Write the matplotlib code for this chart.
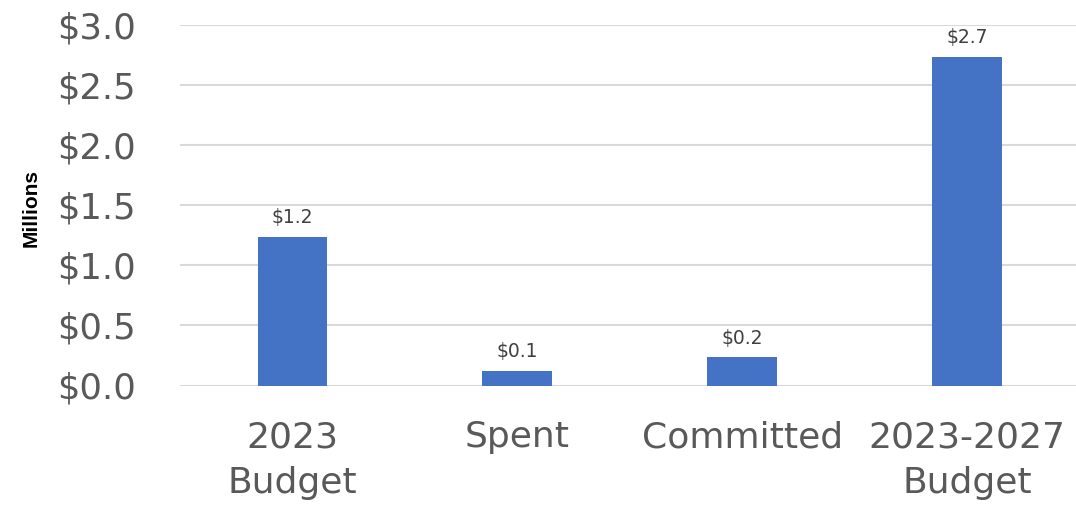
import matplotlib
matplotlib.use("Agg")
import matplotlib.pyplot as plt
from matplotlib import font_manager

categories = ["2023\nBudget", "Spent", "Committed", "2023-2027\nBudget"]
values = [1.236, 0.123, 0.234, 2.73]
labels = ["$1.2", "$0.1", "$0.2", "$2.7"]
yticks = [0.0, 0.5, 1.0, 1.5, 2.0, 2.5, 3.0]

plt.rcParams['font.family'] = ['DejaVu Sans']

fig = plt.figure(figsize=(10.76, 5.09), dpi=100)
ax = fig.add_axes([180/1076, 123.5/509, (1079.5-180)/1076, (385.5-24.5)/509])

x = range(len(categories))
bars = ax.bar(x, values, width=0.31, color="#4472C4", zorder=3)
for b, lab in zip(bars, labels):
    ax.annotate(lab, (b.get_x() + b.get_width()/2, b.get_height()),
                xytext=(0, 7), textcoords="offset points",
                ha="center", va="bottom", fontsize=13.5, color="#404040")

ax.set_xlim(-0.5, len(categories) - 0.5)
ax.set_ylim(0, 3.0)
ax.set_yticks(yticks)
ax.set_yticklabels([f"${t:.1f}" for t in yticks])
ax.set_xticks(list(x))
ax.set_xticklabels(categories, linespacing=1.45)
ax.tick_params(axis="y", length=0, pad=32, labelsize=25.5, labelcolor="#595959")
ax.tick_params(axis="x", length=0, pad=25, labelsize=26, labelcolor="#595959")
ax.grid(axis="y", color="#D9D9D9", linewidth=1.5, zorder=0)
for s in ax.spines.values():
    s.set_visible(False)

names = {f.name for f in font_manager.fontManager.ttflist}
mfam = 'Liberation Sans Narrow' if 'Liberation Sans Narrow' in names else 'Liberation Sans'
msize = 18 if mfam == 'Liberation Sans Narrow' else 15
fig.text(31/1076, 1 - 208/509, "Millions", rotation=90, ha="center", va="center",
         fontsize=msize, fontweight="bold", color="black", family=mfam)

fig.savefig("out.png", dpi=100)
